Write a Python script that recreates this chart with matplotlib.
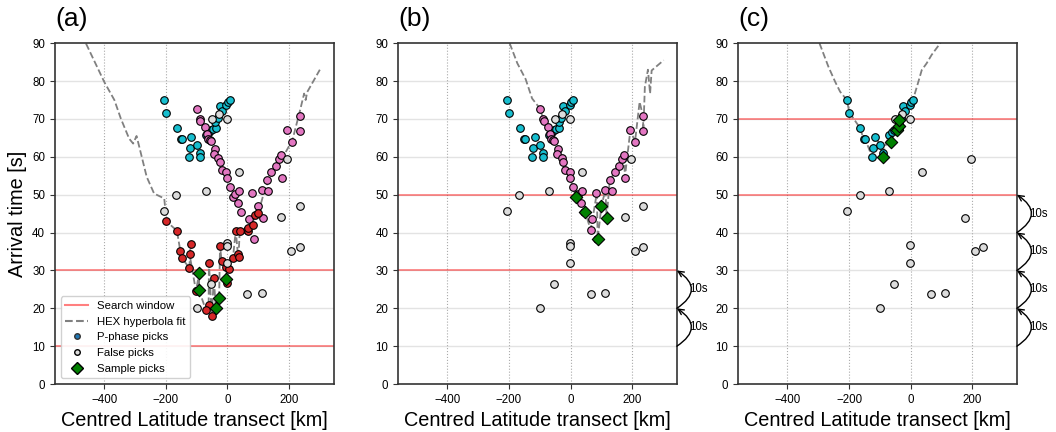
import matplotlib
matplotlib.use("Agg")
import matplotlib.pyplot as plt
from matplotlib.lines import Line2D
import numpy as np

plt.rcParams['font.family'] = ['Liberation Sans', 'DejaVu Sans']

# ---------------- data ----------------
cyan_x = [-207, -199, -165, -152, -147, -117, -123, -98, -125, -90, -90, -70, -61, -53, -46, -38, -39, -30, -24, -17, -3, 1, 7]
cyan_t = [75.0, 71.7, 67.7, 64.6, 64.6, 65.3, 62.2, 63.2, 59.9, 60.9, 60.0, 65.7, 66.6, 67.2, 67.4, 67.7, 69.1, 70.2, 73.5, 72.0, 73.7, 74.5, 74.9]

pink_x = [-99, -89, -88, -72, -67, -64, -58, -53, -40, -45, -29, -24, -19, -3, -2, 7, 17, 25, 36, 35, 44, 65, 71, 81, 87, 98, 113, 117, 133, 127, 143, 157, 167, 174, 176, 194, 209, 235, 236]
pink_t = [72.7, 69.9, 69.4, 68.0, 66.1, 64.7, 64.4, 64.1, 62.1, 60.8, 59.8, 58.7, 56.6, 55.9, 54.5, 52.1, 49.4, 50.1, 51.0, 47.9, 45.4, 40.8, 43.5, 50.4, 38.3, 47.1, 51.2, 43.9, 51.1, 53.8, 55.9, 57.5, 59.4, 60.4, 54.5, 67.1, 64.0, 70.7, 66.7]

red_x = [-200, -164, -153, -148, -118, -123, -124, -102, -60, -44, -61, -70, -51, -24, -19, -3, -2, 5, 18, 27, 40, 34, 36, 66, 67, 82, 90, 100]
red_t = [43.1, 40.5, 35.2, 33.3, 36.9, 34.3, 30.7, 24.5, 32.0, 28.0, 21.0, 19.5, 18.0, 36.5, 32.5, 30.9, 26.8, 30.3, 33.3, 40.5, 40.5, 34.3, 33.6, 40.5, 41.3, 42.0, 44.6, 45.1]

false_x = [-51, -27, -1, 36, -71, -166, -206, 195, 235, 175, 208, 235, -2, -2, -2, -54, -98, 65, 111]
false_t = [70.1, 71.4, 70.0, 55.9, 51.1, 49.9, 45.8, 59.4, 47.1, 44.0, 35.0, 36.3, 37.2, 36.5, 31.9, 26.4, 20.2, 23.9, 24.1]

false_c_x = [-51, -27, -1, 36, -71, -166, -206, 195, 175, 208, 235, -3, -3, -54, -98, 65, 111]
false_c_t = [70.1, 71.4, 70.0, 55.9, 51.1, 49.9, 45.8, 59.4, 43.8, 35.0, 36.3, 36.6, 31.9, 26.4, 20.2, 23.9, 24.1]

sample_a_x = [-92, -92, -27, -38, -3]
sample_a_t = [29.2, 24.8, 22.6, 20.2, 27.7]
sample_b_x = [18, 47, 100, 117, 88]
sample_b_t = [49.3, 45.4, 47.1, 43.8, 38.3]
sample_c_x = [-91, -65, -45, -38, -38]
sample_c_t = [60.0, 64.0, 67.0, 68.1, 69.7]

fit_a_x = [-459, -400, -367, -346, -319, -306, -295, -286, -262, -238, -205, -202, -200, -164, -153, -148, -124, -118, -123,
           -102, -92, -92, -70, -61, -60, -51, -44, -38, -27, -24, -19, -3, -3, 5, 18, 27, 34, 36, 40, 66, 67, 82, 90, 100,
           124, 168, 211, 235, 249, 254, 259, 300]
fit_a_t = [89.9, 79.8, 75.0, 70.1, 64.8, 63.5, 65.5, 62.6, 54.7, 50.3, 49.0, 46.4, 43.1, 40.5, 35.2, 33.3, 30.7, 36.9, 34.3,
           24.5, 29.2, 24.8, 19.5, 21.0, 32.0, 18.0, 28.0, 20.2, 22.6, 36.5, 32.5, 30.9, 27.7, 30.3, 33.3, 40.5, 34.3, 33.6, 40.5,
           40.5, 41.3, 42.0, 44.6, 45.1, 52.1, 58.2, 64.4, 72.0, 76.7, 75.0, 77.1, 83.0]

fit_b_x = [-198, -173, -146, -125, -99, -89, -72, -64, -53, -40, -45, -29, -24, -19, -3, -2, 7, 18, 36, 35, 47, 65, 71, 85, 88,
           100, 113, 117, 127, 143, 157, 174, 176, 194, 209, 224, 235, 236, 241, 251, 258, 263, 302]
fit_b_t = [90.0, 84.7, 80.5, 75.4, 72.7, 69.9, 68.0, 64.7, 64.1, 62.1, 60.8, 59.8, 58.7, 56.6, 55.9, 54.5, 52.1, 49.3, 51.0,
           47.9, 45.4, 40.8, 43.5, 50.4, 38.3, 47.1, 51.2, 43.8, 53.8, 55.9, 57.5, 60.4, 54.5, 67.1, 64.0, 74.5, 70.7, 66.7,
           78.5, 83.0, 76.7, 82.8, 85.5]

fit_c_x = [-296, -267, -245, -229, -207, -199, -165, -152, -147, -125, -123, -117, -98, -91, -90, -70, -65, -61, -53, -45,
           -38, -38, -30, -24, -17, -3, 1, 7, 25, 36, 52, 68, 97]
fit_c_t = [90.0, 83.8, 79.8, 77.2, 75.0, 71.7, 67.7, 64.6, 64.6, 59.9, 62.2, 65.3, 63.2, 60.0, 60.9, 65.7, 64.0, 66.6, 67.2,
           67.0, 68.1, 69.7, 70.2, 73.5, 72.0, 73.7, 74.5, 74.9, 79.8, 82.9, 84.7, 86.9, 90.1]

windows = {'a': (10, 30), 'b': (30, 50), 'c': (50, 70)}
shift_steps = {'a': [], 'b': [(10, 20), (20, 30)], 'c': [(10, 20), (20, 30), (30, 40), (40, 50)]}
panel_labels = ['(a)', '(b)', '(c)']
xticks = [-400, -200, 0, 200]
yticks = [0, 10, 20, 30, 40, 50, 60, 70, 80, 90]

C_CYAN = '#17becf'
C_PINK = '#e377c2'
C_RED = '#d62728'
C_FALSE = '#dcdcdc'
C_BLUE = '#1f77b4'

fig = plt.figure(figsize=(10.56, 4.32), dpi=100)
lefts = [0.052, 0.377, 0.699]
axes = [fig.add_axes([l, 0.111, 0.264, 0.789]) for l in lefts]

def pts(ax, x, t, color, marker='o', s=30, z=3):
    ax.scatter(x, t, s=s, c=color, marker=marker, edgecolors='black', linewidths=0.8, zorder=z)

for i, (ax, key) in enumerate(zip(axes, ['a', 'b', 'c'])):
    ax.set_xlim(-560, 345)
    ax.set_ylim(0, 90)
    ax.set_xticks(xticks)
    ax.set_yticks(yticks)
    ax.tick_params(labelsize=8.3, length=3.5, width=0.8, color='#333333')
    for ax_sp in ax.spines.values():
        ax_sp.set_color('#333333')
        ax_sp.set_linewidth(1.2)
    for y in yticks[1:-1]:
        ax.axhline(y, color='#e3e3e3', lw=1.0, zorder=0)
    for x in xticks:
        ax.axvline(x, color='#aaaaaa', lw=0.8, ls=':', zorder=0)
    lo, hi = windows[key]
    ax.axhline(lo, color='red', alpha=0.5, lw=1.2, zorder=1)
    ax.axhline(hi, color='red', alpha=0.5, lw=1.2, zorder=1)
    ax.set_xlabel('Centred Latitude transect [km]', fontsize=14.3)
    ax.text(0.0, 1.035, panel_labels[i], transform=ax.transAxes, fontsize=19, ha='left', va='bottom')

    for (a0, a1) in shift_steps[key]:
        ax.annotate('', xy=(1.0, a1), xycoords=('axes fraction', 'data'),
                    xytext=(1.0, a0), textcoords=('axes fraction', 'data'),
                    arrowprops=dict(arrowstyle='->', color='black', lw=1.0,
                                    connectionstyle='arc3,rad=0.75', shrinkA=0, shrinkB=0),
                    annotation_clip=False)
        ax.text(1.045, (a0 + a1) / 2, '10s', transform=ax.get_yaxis_transform(),
                fontsize=8.3, ha='left', va='center', clip_on=False)

ax = axes[0]
ax.set_ylabel('Arrival time [s]', fontsize=14.3)
ax.plot(fit_a_x, fit_a_t, ls='--', color='gray', lw=1.3, zorder=2)
pts(ax, cyan_x, cyan_t, C_CYAN)
pts(ax, pink_x, pink_t, C_PINK)
pts(ax, red_x, red_t, C_RED)
pts(ax, false_x, false_t, C_FALSE)
pts(ax, sample_a_x, sample_a_t, 'green', marker='D', s=40, z=4)

handles = [
    Line2D([], [], color='red', alpha=0.5, lw=1.5, label='Search window'),
    Line2D([], [], color='gray', ls='--', lw=1.5, label='HEX hyperbola fit'),
    Line2D([], [], ls='', marker='o', markerfacecolor=C_BLUE, markeredgecolor='#333333', markersize=4, label='P-phase picks'),
    Line2D([], [], ls='', marker='o', markerfacecolor=C_FALSE, markeredgecolor='black', markersize=4, label='False picks'),
    Line2D([], [], ls='', marker='D', markerfacecolor='green', markeredgecolor='black', markersize=6, label='Sample picks'),
]
ax.legend(handles=handles, loc='lower left', fontsize=8.2, framealpha=0.9)

ax = axes[1]
ax.plot(fit_b_x, fit_b_t, ls='--', color='gray', lw=1.3, zorder=2)
pts(ax, cyan_x, cyan_t, C_CYAN)
pts(ax, pink_x, pink_t, C_PINK)
pts(ax, false_x, false_t, C_FALSE)
pts(ax, sample_b_x, sample_b_t, 'green', marker='D', s=40, z=4)

ax = axes[2]
ax.plot(fit_c_x, fit_c_t, ls='--', color='gray', lw=1.3, zorder=2)
pts(ax, cyan_x, cyan_t, C_CYAN)
pts(ax, false_c_x, false_c_t, C_FALSE)
pts(ax, sample_c_x, sample_c_t, 'green', marker='D', s=40, z=4)

fig.savefig('out.png', dpi=100)
